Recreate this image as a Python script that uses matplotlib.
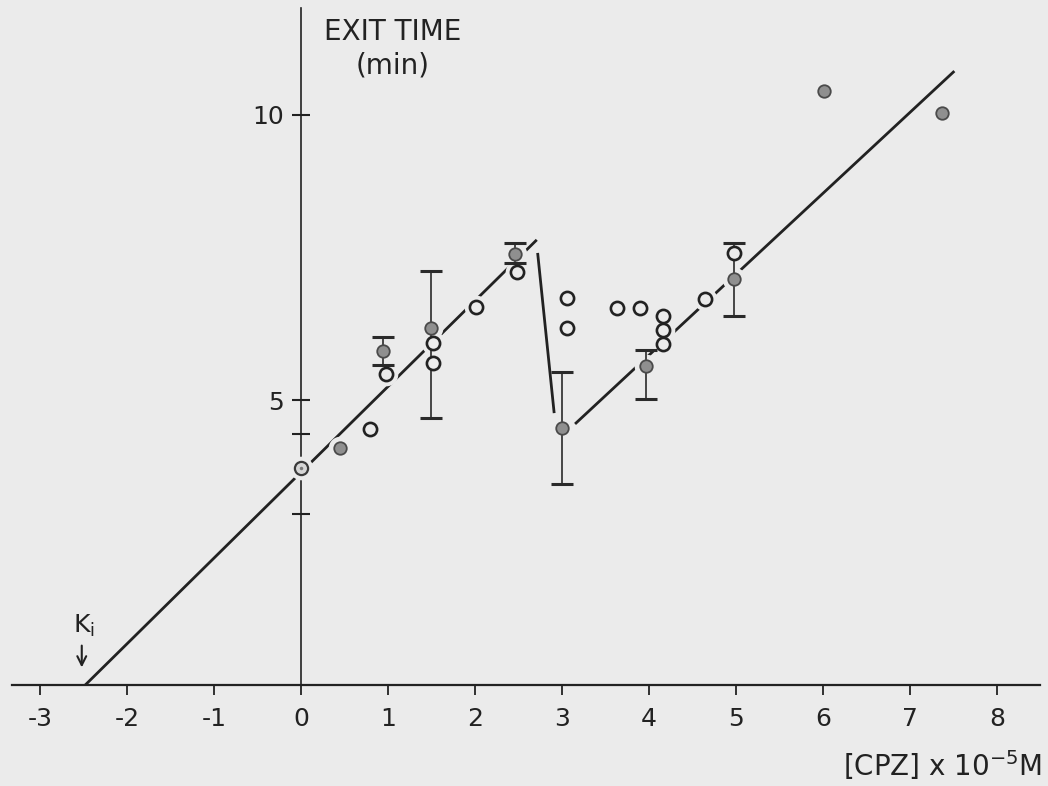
import numpy as np
import matplotlib
matplotlib.use("Agg")
import matplotlib.pyplot as plt

plt.rcParams["font.family"] = ["DejaVu Sans"]
plt.rcParams["axes.unicode_minus"] = False

# Exit time (min) versus chlorpromazine concentration (x 10^-5 M)
x_ticks = [-3, -2, -1, 0, 1, 2, 3, 4, 5, 6, 7, 8]
y_ticks = [5, 10]
y_minor = [3.0, 4.4]

# control point at zero concentration
ctrl_x = [0.0]
ctrl_y = [3.81]

# mean values (filled circles) with error-bar ends
mean_x = [0.45, 0.94, 1.49, 2.46, 3.00, 3.97, 4.98, 6.01, 7.37]
mean_y = [4.16, 5.86, 6.26, 7.56, 4.51, 5.60, 7.12, 10.42, 10.04]
err_top = [np.nan, 6.10, 7.26, 7.75, 5.49, 5.88, 7.75, np.nan, np.nan]
err_bot = [np.nan, 5.61, 4.68, 7.40, 3.53, 5.02, 6.47, np.nan, np.nan]

# individual determinations (open circles)
single_x = [0.79, 0.98, 1.52, 1.52, 2.01, 2.48, 3.06, 3.06, 3.63, 3.90,
            4.16, 4.16, 4.16, 4.64, 4.98]
single_y = [4.49, 5.46, 6.00, 5.65, 6.63, 7.25, 6.79, 6.26, 6.61, 6.61,
            6.47, 6.23, 5.98, 6.77, 7.58]

# fitted straight lines: (x_start, x_end), (y_start, y_end)
ki = -2.48
fit1 = ([ki, 2.71], [0.0, 7.81])
drop = ([2.72, 2.91], [7.58, 4.77])
fit2 = ([3.15, 7.51], [4.58, 10.77])

paper = "#ebebeb"
ink = "#222222"

fig = plt.figure(figsize=(10.48, 7.86), dpi=100, facecolor=paper)
ax = fig.add_axes([0, 0, 1, 1], facecolor=paper)

px0, sx = 301.0, 87.0
py0, sy = 685.0, 57.0
ax.set_xlim(-px0 / sx, (1048 - px0) / sx)
ax.set_ylim((py0 - 786) / sy, py0 / sy)

# axes through the origin
for side in ("top", "right"):
    ax.spines[side].set_visible(False)
ax.spines["left"].set_position(("data", 0))
ax.spines["bottom"].set_position(("data", 0))
ax.spines["bottom"].set_bounds((12 - px0) / sx, (1040 - px0) / sx)
ax.spines["left"].set_bounds(0, (py0 - 8) / sy)
for side in ("left", "bottom"):
    ax.spines[side].set_color(ink)
ax.spines["bottom"].set_linewidth(1.6)
ax.spines["left"].set_linewidth(1.2)

ax.set_xticks(x_ticks)
ax.set_xticklabels([str(v) for v in x_ticks])
ax.set_yticks(y_ticks)
ax.set_yticklabels([str(v) for v in y_ticks])
ax.set_yticks(y_minor, minor=True)
ax.tick_params(axis="x", direction="out", length=7, width=1.3, color=ink,
               labelsize=18, labelcolor=ink, pad=9)
ax.tick_params(axis="y", which="both", direction="inout", length=13,
               width=1.5, color=ink, labelsize=18, labelcolor=ink, pad=6)
ax.tick_params(axis="y", which="minor", labelleft=False)

# lines
for xs, ys in (fit1, drop, fit2):
    ax.plot(xs, ys, color=ink, lw=2.0, solid_capstyle="butt", zorder=2)

# clear space around every symbol so the lines stop short of them
all_x = ctrl_x + mean_x + single_x
all_y = ctrl_y + mean_y + single_y
ax.plot(all_x, all_y, ls="none", marker="o", ms=17, mfc=paper, mec="none",
        zorder=3)

# error bars on the means
mx = np.array(mean_x)
my = np.array(mean_y)
lo = my - np.array(err_bot)
hi = np.array(err_top) - my
has = ~np.isnan(lo)
ax.errorbar(mx[has], my[has], yerr=[lo[has], hi[has]], fmt="none",
            ecolor="#2a2a2a", elinewidth=1.2, capsize=8, capthick=2.2,
            zorder=4)

ax.plot(mean_x, mean_y, ls="none", marker="o", ms=9, mfc="#8f8f8f",
        mec="#4a4a4a", mew=1.3, zorder=5)
ax.plot(single_x, single_y, ls="none", marker="o", ms=9.5, mfc=paper,
        mec=ink, mew=1.9, zorder=5)
ax.plot(ctrl_x, ctrl_y, ls="none", marker="o", ms=9.5, mfc="#d6d6d6",
        mec="#3a3a3a", mew=1.6, zorder=5)
ax.plot(ctrl_x, ctrl_y, ls="none", marker="o", ms=2.5, mfc="#777777",
        mec="none", zorder=6)

# axis titles
ax.text((393 - px0) / sx, (py0 - 18) / sy, "EXIT TIME\n(min)", ha="center",
        va="top", fontsize=20, color=ink, linespacing=1.25)
ax.text((1042 - px0) / sx, (py0 - 776) / sy, r"[CPZ] x 10$^{-5}$M",
        ha="right", va="baseline", fontsize=20, color=ink)

# inhibition constant marker
ax.text((84 - px0) / sx, (py0 - 626) / sy, r"K$_{\mathrm{i}}$", ha="center",
        va="center", fontsize=18, color=ink)
ax.annotate("", xy=(ki - 0.04, 0.26), xytext=(ki - 0.04, 0.74),
            arrowprops=dict(arrowstyle="->", color=ink, lw=1.5,
                            mutation_scale=16))

fig.savefig("out.png", dpi=100, facecolor=paper)
